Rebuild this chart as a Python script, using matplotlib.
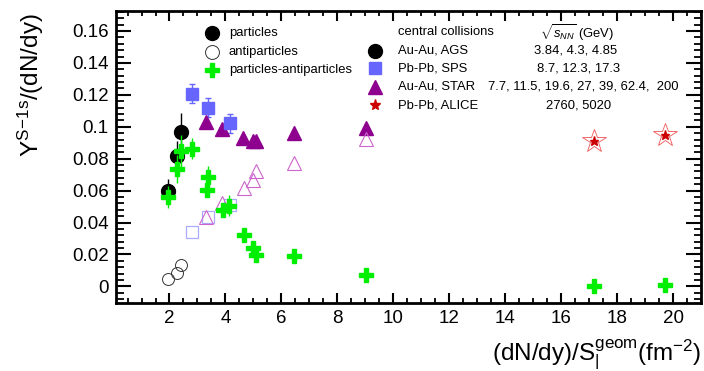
import numpy as np
import matplotlib
matplotlib.use("Agg")
import matplotlib.pyplot as plt
from matplotlib.ticker import MultipleLocator, FuncFormatter

plt.rcParams["font.family"] = ["Liberation Sans", "DejaVu Sans"]
plt.rcParams["mathtext.fontset"] = "custom"
plt.rcParams["mathtext.rm"] = "Liberation Sans"
plt.rcParams["mathtext.it"] = "Liberation Sans:italic"
plt.rcParams["mathtext.default"] = "rm"

# ---- data: (dN/dy)/S vs Y/(dN/dy) ----
# AGS Au-Au, particles / antiparticles
ags_x = [1.95, 2.26, 2.41]
ags_y = [0.060, 0.0814, 0.0965]
ags_err = [0.007, 0.0095, 0.012]
ags_anti_x = [1.96, 2.28, 2.40]
ags_anti_y = [0.0048, 0.0086, 0.0133]

# SPS Pb-Pb
sps_x = [2.79, 3.38, 4.16]
sps_y = [0.1206, 0.112, 0.1023]
sps_err = [0.006, 0.006, 0.006]
sps_anti_x = [2.79, 3.38, 4.18]
sps_anti_y = [0.0342, 0.0436, 0.0513]

# STAR Au-Au
star_x = [3.32, 3.86, 4.63, 4.99, 5.10, 6.46, 9.03]
star_y = [0.1027, 0.0985, 0.0930, 0.0913, 0.0913, 0.0961, 0.0992]
star_anti_x = [3.32, 3.86, 4.66, 4.99, 5.10, 6.46, 9.03]
star_anti_y = [0.0436, 0.0523, 0.0617, 0.0669, 0.0720, 0.0773, 0.0923]

# ALICE Pb-Pb
alice_x = [17.16, 19.70]
alice_y = [0.0908, 0.0950]
alice_anti_y = [0.0908, 0.0950]

# particles - antiparticles
diff_x = [1.94, 2.26, 2.40, 2.79, 3.38, 3.33, 3.90, 4.13, 4.66, 4.99, 5.08,
          6.46, 9.03, 17.16, 19.70]
diff_y = [0.056, 0.0736, 0.0846, 0.0863, 0.0686, 0.0602, 0.0477, 0.0506,
          0.0323, 0.0242, 0.0194, 0.0190, 0.0071, 0.0002, 0.0006]
diff_err = [0.0068, 0.009, 0.010, 0.0065, 0.007, 0.003, 0.004, 0.0065,
            0.002, 0.002, 0.002, 0.002, 0.002, 0.003, 0.002]

W, H = 704, 371


def px(x, y):
    # pixel position (from top-left) -> figure fraction
    return x / W, 1 - y / H


fig = plt.figure(figsize=(W / 100, H / 100), dpi=100)
ax = fig.add_axes([115.5 / W, 1 - 302.7 / H, (701 - 115.5) / W, (302.7 - 11) / H])

green = "#00ee00"
purple = "#8e008e"

# AGS particles (drawn first so the green crosses sit on top)
ax.errorbar(ags_x, ags_y, yerr=ags_err, fmt="o", color="black", ms=10,
            elinewidth=1.0, capsize=0, zorder=3)
ax.plot(ags_anti_x, ags_anti_y, "o", mfc="none", mec="#333333", mew=0.7,
        ms=8.6, zorder=3)

# SPS
ax.errorbar(sps_x, sps_y, yerr=sps_err, fmt="s", color="#6666ff", ms=9,
            elinewidth=1.0, capsize=2, zorder=3)
ax.plot(sps_anti_x, sps_anti_y, "s", mfc="none", mec="#aaaaff", mew=0.9,
        ms=9, zorder=3)

# STAR
ax.plot(star_x, star_y, "^", color=purple, ms=9.5, zorder=3)
ax.plot(star_anti_x, star_anti_y, "^", mfc="none", mec="#cc66cc", mew=0.8,
        ms=9.5, zorder=3)

# ALICE
ax.plot(alice_x, alice_anti_y, "*", mfc="none", mec="#ee5555", mew=0.6,
        ms=17.5, zorder=3)
ax.plot(alice_x, alice_y, "*", color="#cc0000", ms=6.5, zorder=4)

# particles - antiparticles
ax.errorbar(diff_x, diff_y, yerr=diff_err, fmt="P", color=green, mec=green,
            ms=10, elinewidth=1.0, capsize=0, zorder=5)

# axes
ax.set_xlim(0.07, 21.0)
ax.set_ylim(-0.0102, 0.1725)
ax.xaxis.set_major_locator(MultipleLocator(2))
ax.xaxis.set_minor_locator(MultipleLocator(0.5))
ax.yaxis.set_major_locator(MultipleLocator(0.02))
ax.yaxis.set_minor_locator(MultipleLocator(0.004))
ax.yaxis.set_major_formatter(FuncFormatter(lambda v, p: "%g" % round(v, 3)))
ax.xaxis.set_major_formatter(FuncFormatter(lambda v, p: "%g" % v))

for s in ax.spines.values():
    s.set_linewidth(2.0)
ax.tick_params(which="both", direction="in", top=True, right=True,
               labelsize=13.5, width=1.5)
ax.tick_params(axis="y", which="major", length=10.8, pad=5)
ax.tick_params(axis="y", which="minor", length=5.4, width=1.3)
ax.tick_params(axis="x", which="major", length=7, pad=5)
ax.tick_params(axis="x", which="minor", length=3.8, width=1.3)

# axis titles
fig.text(*px(701, 355), r"(dN/dy)/S$_{|}^{\rm geom}$(fm$^{-2}$)",
         ha="right", va="center", fontsize=17.5)
fig.text(*px(31, 13), r"Y$^{\rm S\!-\!1s}$/(dN/dy)", rotation=90,
         ha="center", va="top", fontsize=17.5)

# left legend block
fs = 9.4
rows_l = [32.7, 51.7, 70.0]
fig.lines.append(plt.Line2D([211.7 / W], [1 - rows_l[0] / H], marker="o",
                            color="black", ms=10, transform=fig.transFigure))
fig.lines.append(plt.Line2D([211.7 / W], [1 - rows_l[1] / H], marker="o",
                            mfc="none", mec="#333333", mew=0.7, ms=10,
                            transform=fig.transFigure))
fig.lines.append(plt.Line2D([211.7 / W], [1 - rows_l[2] / H], marker="P",
                            color=green, ms=10, transform=fig.transFigure))
for y, t in zip(rows_l, ["particles", "antiparticles", "particles-antiparticles"]):
    fig.text(*px(229, y), t, ha="left", va="center", fontsize=fs)

# right legend block
fig.text(*px(398, 32.3), "central collisions", ha="left", va="center", fontsize=fs)
fig.text(*px(540, 32.3), r"$\sqrt{\mathit{s}_{\mathit{NN}}}$ (GeV)", ha="left",
         va="center", fontsize=fs)

rows_r = [50.7, 68.3, 86.7, 105.0]
leg_marks = [dict(marker="o", color="black", ms=10),
             dict(marker="s", color="#6666ff", ms=9),
             dict(marker="^", color=purple, ms=9.5),
             dict(marker="*", color="#cc0000", ms=8)]
leg_names = ["Au-Au, AGS", "Pb-Pb, SPS", "Au-Au, STAR", "Pb-Pb, ALICE"]
leg_energy = ["3.84, 4.3, 4.85", "8.7, 12.3, 17.3",
              "7.7, 11.5, 19.6, 27, 39, 62.4,  200", "2760, 5020"]
energy_x = [534, 537, 488, 546]
for y, m, n, e, ex in zip(rows_r, leg_marks, leg_names, leg_energy, energy_x):
    fig.lines.append(plt.Line2D([375 / W], [1 - y / H], transform=fig.transFigure, **m))
    fig.text(*px(398, y), n, ha="left", va="center", fontsize=fs)
    fig.text(*px(ex, y), e, ha="left", va="center", fontsize=fs)

fig.savefig("out.png", dpi=100)
